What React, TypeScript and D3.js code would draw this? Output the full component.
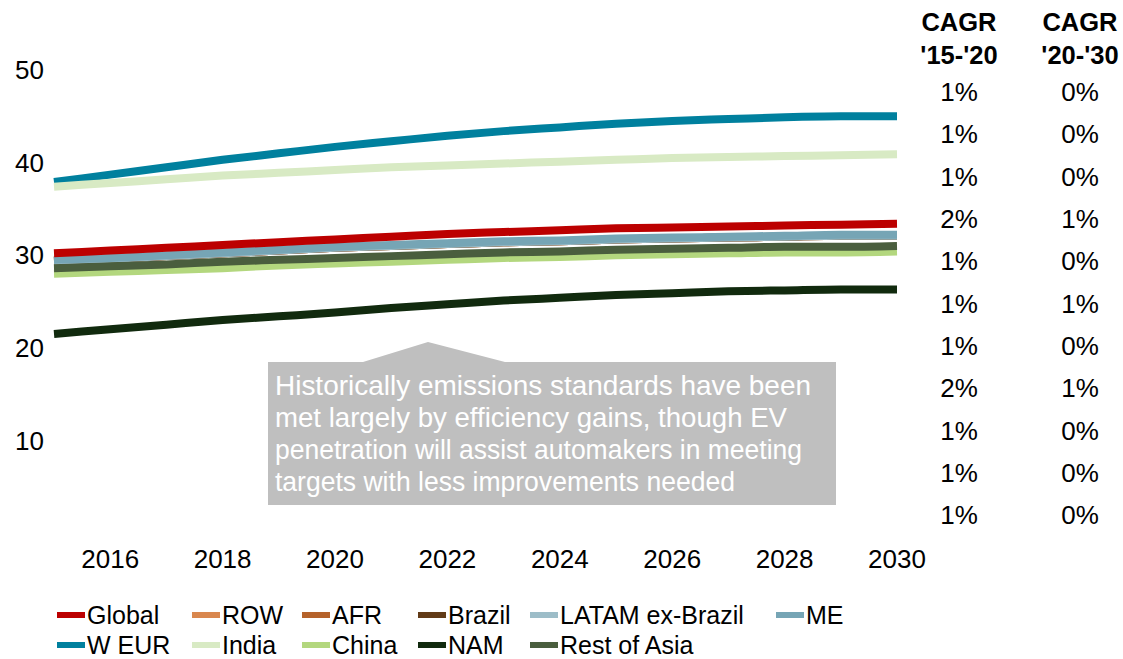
import * as d3 from "d3";

const years = d3.range(2015, 2031);
const xTicks = [2016, 2018, 2020, 2022, 2024, 2026, 2028, 2030];
const yTicks = [10, 20, 30, 40, 50];

// series in legend order
const seriesNames = ["Global", "ROW", "AFR", "Brazil", "LATAM ex-Brazil", "ME", "W EUR", "India", "China", "NAM", "Rest of Asia"];
const seriesColors = ["#BC0000", "#D9874E", "#B5622A", "#623B17", "#9DBDC8", "#76A5B5", "#00809E", "#D8EAC4", "#B3D77E", "#112A0E", "#4A5E3E"];

const globalVals = [30.2, 30.5, 30.8, 31.1, 31.4, 31.7, 32.0, 32.3, 32.5, 32.7, 32.9, 33.0, 33.1, 33.2, 33.3, 33.4];
const rowVals = [29.4, 29.6, 29.9, 30.2, 30.5, 30.8, 31.0, 31.2, 31.4, 31.5, 31.7, 31.8, 31.9, 32.0, 32.1, 32.1];
const afrVals = [29.4, 29.6, 29.9, 30.2, 30.5, 30.8, 31.0, 31.2, 31.4, 31.5, 31.7, 31.8, 31.9, 32.0, 32.1, 32.1];
const brazilVals = [29.4, 29.6, 29.9, 30.2, 30.5, 30.8, 31.0, 31.2, 31.4, 31.5, 31.7, 31.8, 31.9, 32.0, 32.1, 32.1];
const latamVals = [29.4, 29.6, 29.9, 30.2, 30.5, 30.8, 31.0, 31.2, 31.4, 31.5, 31.7, 31.8, 31.9, 32.0, 32.1, 32.1];
const meVals = [29.5, 29.7, 30.0, 30.3, 30.6, 30.9, 31.1, 31.3, 31.5, 31.6, 31.8, 31.9, 32.0, 32.1, 32.2, 32.2];
const weurVals = [37.9, 38.7, 39.5, 40.3, 41.0, 41.7, 42.3, 42.9, 43.4, 43.8, 44.2, 44.5, 44.7, 44.9, 45.0, 45.0];
const indiaVals = [37.4, 37.8, 38.2, 38.6, 38.9, 39.2, 39.5, 39.7, 39.9, 40.1, 40.3, 40.5, 40.6, 40.7, 40.8, 40.9];
const chinaVals = [28.0, 28.2, 28.4, 28.6, 28.9, 29.1, 29.3, 29.5, 29.7, 29.8, 30.0, 30.1, 30.2, 30.3, 30.3, 30.4];
const namVals = [21.5, 22.0, 22.5, 23.0, 23.4, 23.8, 24.3, 24.7, 25.1, 25.4, 25.7, 25.9, 26.1, 26.2, 26.3, 26.3];
const restAsiaVals = [28.6, 28.8, 29.0, 29.3, 29.5, 29.7, 29.9, 30.1, 30.3, 30.4, 30.6, 30.7, 30.8, 30.9, 30.9, 31.0];

const seriesValues = [globalVals, rowVals, afrVals, brazilVals, latamVals, meVals, weurVals, indiaVals, chinaVals, namVals, restAsiaVals];
// hidden regions drawn first, then visible ones on top
const drawOrder = [1, 2, 3, 4, 6, 7, 9, 8, 10, 5, 0];

const cagr1520 = ["1%", "1%", "1%", "2%", "1%", "1%", "1%", "2%", "1%", "1%", "1%"];
const cagr2030 = ["0%", "0%", "0%", "1%", "0%", "1%", "0%", "1%", "0%", "0%", "0%"];

const noteLines = [
  "Historically emissions standards have been",
  "met largely by efficiency gains, though EV",
  "penetration will assist automakers in meeting",
  "targets with less improvements needed",
];
const noteWidths = [536, 512, 527, 460];

const font = "'Liberation Sans', Arial, sans-serif";

export default function App() {
  const width = 1123;
  const height = 659;

  const x = d3.scaleLinear().domain([2015, 2030]).range([54, 897]);
  const y = d3.scaleLinear().domain([0, 50]).range([533, 70]);

  const line = d3.line<number>()
    .x((_, i) => x(years[i]))
    .y(d => y(d))
    .curve(d3.curveMonotoneX);

  const rowY = d3.scaleLinear().domain([0, 10]).range([92, 515]);

  const legendCols = [57, 192, 302, 418, 530, 776];

  // callout box
  const bx0 = 268, bx1 = 836, by0 = 362, by1 = 505;
  const callout = `M${bx0},${by0} L363,${by0} L428,342 L505,${by0} L${bx1},${by0} L${bx1},${by1} L${bx0},${by1} Z`;

  return (
    <svg width={width} height={height} style={{ position: "absolute", left: 0, top: 0 }} fontFamily={font}>
      <rect width={width} height={height} fill="#fff" />

      {yTicks.map(t => (
        <text key={t} x={44} y={y(t)} dy="0.35em" textAnchor="end" fontSize={26} fill="#000">{t}</text>
      ))}
      {xTicks.map(t => (
        <text key={t} x={x(t)} y={559} dy="0.35em" textAnchor="middle" fontSize={26} fill="#000">{t}</text>
      ))}

      {drawOrder.map(i => (
        <path key={seriesNames[i]} d={line(seriesValues[i]) ?? ""} fill="none"
          stroke={seriesColors[i]} strokeWidth={8} />
      ))}

      <path d={callout} fill="#BFBFBF" />
      {noteLines.map((l, i) => (
        <text key={i} x={275} y={385 + i * 32} dy="0.35em" fontSize={27.5} fill="#fff"
          textLength={noteWidths[i]} lengthAdjust="spacingAndGlyphs">{l}</text>
      ))}

      <text x={959} y={22} dy="0.35em" textAnchor="middle" fontSize={25.5} fontWeight="bold">CAGR</text>
      <text x={959} y={55} dy="0.35em" textAnchor="middle" fontSize={25.5} fontWeight="bold">'15-'20</text>
      <text x={1080} y={22} dy="0.35em" textAnchor="middle" fontSize={25.5} fontWeight="bold">CAGR</text>
      <text x={1080} y={55} dy="0.35em" textAnchor="middle" fontSize={25.5} fontWeight="bold">'20-'30</text>
      {cagr1520.map((v, i) => (
        <text key={"a" + i} x={959} y={rowY(i)} dy="0.35em" textAnchor="middle" fontSize={26}>{v}</text>
      ))}
      {cagr2030.map((v, i) => (
        <text key={"b" + i} x={1080} y={rowY(i)} dy="0.35em" textAnchor="middle" fontSize={26}>{v}</text>
      ))}

      {seriesNames.map((name, i) => {
        const col = i < 6 ? i : i - 6;
        const ly = i < 6 ? 615 : 645;
        const lx = legendCols[col];
        return (
          <g key={name}>
            <rect x={lx} y={ly - 3} width={28} height={6} fill={seriesColors[i]} />
            <text x={lx + 30} y={ly} dy="0.35em" fontSize={25}>{name}</text>
          </g>
        );
      })}
    </svg>
  );
}
